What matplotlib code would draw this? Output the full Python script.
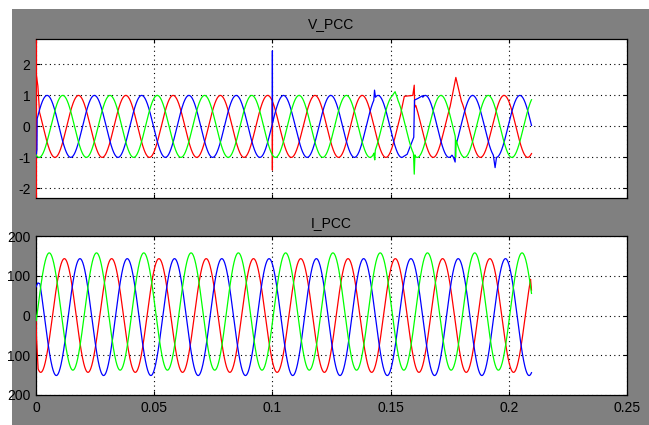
import numpy as np
import matplotlib

matplotlib.use("Agg")

import matplotlib.pyplot as plt
from matplotlib.patches import Rectangle

# ---- signal data ----
FREQ = 50.0            # Hz
T_STEP = 1e-4          # scope sample time (s)
T_END = 0.2096         # last sample shown (s)

PHASE_COLORS = ["#ff0000", "#0000ff", "#00ff00"]   # red, blue, green

# voltage: peak value, time of a positive peak, dc offset
V_PEAK = [1.0, 1.0, 1.0]
V_PEAK_TIME = [0.018, 0.0047, 0.0113]
V_OFFSET = [0.0, 0.0, 0.0]

# current
I_PEAK = [143.0, 147.0, 147.5]
I_PEAK_TIME = [0.012, 0.0186, 0.0056]
I_OFFSET = [0.0, -4.0, 10.0]

# disturbances (time, value) replacing the trace over their span
V_RED_EVENTS = [
    [(0.0, 1.75), (0.0008, 1.3), (0.0015, 0.45)],
    [(0.09995, 0.81), (0.1, -1.41), (0.10005, 0.80)],
    [(0.1545, 0.5), (0.1558, 0.97), (0.1594, 1.0), (0.1600, 1.33), (0.1602, 0.62), (0.1606, 0.68)],
    [(0.1752, 0.65), (0.1776, 1.58), (0.1800, 0.8)],
]
V_BLUE_EVENTS = [
    [(0.0, -1.0), (0.0004, -0.75)],
    [(0.09995, 0.1), (0.1, 2.44), (0.10005, 0.12)],
    [(0.1430, 0.97), (0.1432, 1.17), (0.1435, 1.0)],
    [(0.1555, -0.97), (0.1570, -0.9), (0.1598, -0.35), (0.1601, 0.85), (0.1615, 0.9), (0.1635, 0.99)],
    [(0.1760, -0.93), (0.1766, -1.0), (0.1773, -1.15), (0.1775, -0.45), (0.1778, -0.55)],
    [(0.1935, -0.95), (0.1942, -1.33), (0.1948, -1.0)],
]
V_GREEN_EVENTS = [
    [(0.1431, -1.0), (0.1433, -1.08), (0.1435, -0.8)],
    [(0.1505, 0.97), (0.1519, 1.12), (0.1530, 0.88)],
    [(0.1597, -0.9), (0.1600, -1.54), (0.1603, -0.92)],
    [(0.1774, -0.4), (0.1775, -1.0), (0.1777, -0.45)],
]

I_RED_EVENTS = [
    [(0.0, 0.0), (0.0002, -55.0), (0.0008, -120.0)],
    [(0.2093, 85.0), (0.2096, 64.0)],
]
I_BLUE_EVENTS = [
    [(0.0, 72.0), (0.0008, 82.0), (0.0016, 80.0)],
]
I_GREEN_EVENTS = [
    [(0.0, 0.0)],
]

V_TICKS = [-2, -1, 0, 1, 2]
V_LIMITS = (-2.31, 2.82)
I_TICKS = [-200, -100, 0, 100, 200]
I_TICK_LABELS = ["200", "100", "0", "100", "200"]   # minus signs are clipped in the screenshot
X_TICKS = [0, 0.05, 0.1, 0.15, 0.2, 0.25]
X_TICK_LABELS = ["0", "0.05", "0.1", "0.15", "0.2", "0.25"]

FONT = ["Liberation Sans Narrow", "Liberation Sans", "DejaVu Sans"]


def phase_wave(t, peak, peak_time, offset):
    return offset + peak * np.cos(2 * np.pi * FREQ * (t - peak_time))


def splice(t, y, events):
    for pts in events:
        t0, t1 = pts[0][0], pts[-1][0]
        keep = (t < t0 - 1e-9) | (t > t1 + 1e-9)
        et = np.array([p[0] for p in pts])
        ev = np.array([p[1] for p in pts])
        t = np.concatenate([t[keep], et])
        y = np.concatenate([y[keep], ev])
        order = np.argsort(t, kind="stable")
        t, y = t[order], y[order]
    return t, y


def style_axes(ax, yticks, ylim):
    ax.set_facecolor("white")
    ax.set_xlim(0, 0.25)
    ax.set_ylim(*ylim)
    ax.set_xticks(X_TICKS)
    ax.set_yticks(yticks)
    ax.grid(True, color="black", linestyle=(0, (1, 3)), linewidth=0.8)
    ax.tick_params(direction="in", length=3, width=0.8, top=True, right=True,
                   labelsize=10, pad=4, colors="black")
    for sp in ax.spines.values():
        sp.set_linewidth(0.9)
        sp.set_color("black")
    for lab in ax.get_xticklabels() + ax.get_yticklabels():
        lab.set_family(FONT)


def main():
    plt.rcParams["axes.unicode_minus"] = False
    plt.rcParams["font.family"] = FONT

    W, H = 649, 425
    fig = plt.figure(figsize=(W / 100, H / 100), dpi=100, facecolor="white")
    fig.patches.append(Rectangle((12 / W, 0), 1, (H - 9) / H, transform=fig.transFigure,
                                 facecolor="#808080", edgecolor="none", zorder=-10))

    left, width = 36 / W, 591 / W
    ax_v = fig.add_axes([left, 1 - 198 / H, width, 159 / H])
    ax_i = fig.add_axes([left, 1 - 395 / H, width, 159 / H])

    t = np.arange(0, T_END + T_STEP / 2, T_STEP)

    v_events = [V_RED_EVENTS, V_BLUE_EVENTS, V_GREEN_EVENTS]
    i_events = [I_RED_EVENTS, I_BLUE_EVENTS, I_GREEN_EVENTS]

    for k in range(3):
        tv, yv = splice(t, phase_wave(t, V_PEAK[k], V_PEAK_TIME[k], V_OFFSET[k]), v_events[k])
        ax_v.plot(tv, yv, color=PHASE_COLORS[k], linewidth=0.9, zorder=3)
        ti, yi = splice(t, phase_wave(t, I_PEAK[k], I_PEAK_TIME[k], I_OFFSET[k]), i_events[k])
        ax_i.plot(ti, yi, color=PHASE_COLORS[k], linewidth=0.9, zorder=3)

    style_axes(ax_v, V_TICKS, V_LIMITS)
    ax_v.set_xticklabels([])
    ax_v.spines["left"].set_color("#ff0000")

    style_axes(ax_i, I_TICKS, (-200, 200))
    ax_i.set_yticklabels(I_TICK_LABELS, family=FONT)
    ax_i.set_xticklabels(X_TICK_LABELS, family=FONT)

    cx = (36 + 627) / 2 / W
    fig.text(cx, 1 - 24 / H, "V_PCC", ha="center", va="center", fontsize=10, family=FONT)
    fig.text(cx, 1 - 223 / H, "I_PCC", ha="center", va="center", fontsize=10, family=FONT)

    fig.savefig("out.png", dpi=100, facecolor="white")


if __name__ == "__main__":
    main()
